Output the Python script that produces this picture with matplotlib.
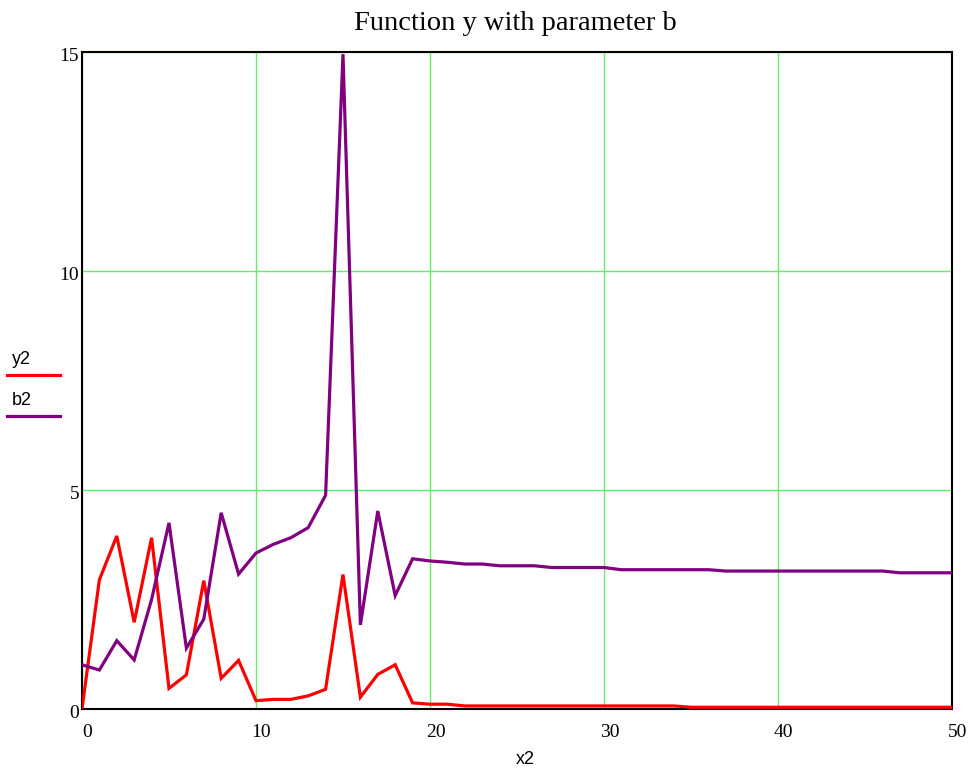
import numpy as np
import matplotlib.pyplot as plt
from matplotlib.lines import Line2D
import matplotlib.transforms as mtransforms

# x2 runs 0..50
x2 = np.arange(0, 51)

# y2 (red)
y2 = [0.0, 2.95, 3.95, 1.98, 3.91, 0.47, 0.78, 2.93, 0.70, 1.11,
      0.19, 0.22, 0.22, 0.30, 0.45, 3.07, 0.27, 0.79, 1.01, 0.14,
      0.11, 0.11, 0.07, 0.07, 0.07, 0.07, 0.07, 0.07, 0.07, 0.07,
      0.07, 0.07, 0.07, 0.07, 0.07, 0.04, 0.04, 0.04, 0.04, 0.04,
      0.04, 0.04, 0.04, 0.04, 0.04, 0.04, 0.04, 0.04, 0.04, 0.04,
      0.04]

# b2 (purple)
b2 = [1.01, 0.89, 1.56, 1.12, 2.50, 4.25, 1.39, 2.05, 4.48, 3.08,
      3.56, 3.76, 3.91, 4.14, 4.88, 14.95, 1.92, 4.52, 2.59, 3.43,
      3.38, 3.35, 3.31, 3.31, 3.27, 3.27, 3.27, 3.23, 3.23, 3.23,
      3.23, 3.18, 3.18, 3.18, 3.18, 3.18, 3.18, 3.15, 3.15, 3.15,
      3.15, 3.15, 3.15, 3.15, 3.15, 3.15, 3.15, 3.11, 3.11, 3.11,
      3.11]

xticks = [0, 10, 20, 30, 40, 50]
yticks = [0, 5, 10, 15]

RED = "#ff0000"
PURPLE = "#800080"
GRID = "#66ee66"

fig = plt.figure(figsize=(9.76, 7.71), dpi=100)
ax = fig.add_axes([0.084, 0.0804, 0.8914, 0.8522])

ax.plot(x2, y2, color=RED, lw=2.3, zorder=3, solid_joinstyle="miter")
ax.plot(x2, b2, color=PURPLE, lw=2.3, zorder=3, solid_joinstyle="miter")

ax.set_xlim(0, 50)
ax.set_ylim(0, 15)
ax.set_xticks(xticks)
ax.set_yticks(yticks)
ax.grid(True, color=GRID, lw=1.0, zorder=1)
ax.tick_params(length=0, labelsize=14)
ax.tick_params(axis="x", pad=11)
ax.tick_params(axis="y", pad=2)
for lab in ax.get_xticklabels() + ax.get_yticklabels():
    lab.set_fontfamily("Liberation Serif")
xoff = mtransforms.ScaledTranslation(5.5 / 100, 0, fig.dpi_scale_trans)
for lab in ax.get_xticklabels():
    lab.set_transform(lab.get_transform() + xoff)
yoff = mtransforms.ScaledTranslation(0, -2.5 / 100, fig.dpi_scale_trans)
for lab in ax.get_yticklabels():
    lab.set_transform(lab.get_transform() + yoff)

for s in ax.spines.values():
    s.set_color("black")
    s.set_linewidth(1.5)

fig.text(525 / 976, 1 - 760 / 771, "x2", ha="center", va="center",
         fontfamily="Liberation Sans", fontsize=13)
fig.text(515 / 976, 1 - 23 / 771, "Function y with parameter b", ha="center",
         va="center", fontfamily="Liberation Serif", fontsize=20.5)

# legend on the left side
fig.text(12 / 976, 1 - 359 / 771, "y2", ha="left", va="center",
         fontfamily="Liberation Sans", fontsize=13)
fig.add_artist(Line2D([7 / 976, 60 / 976], [1 - 375 / 771] * 2,
                      color=RED, lw=2.3, transform=fig.transFigure))
fig.text(12 / 976, 1 - 400 / 771, "b2", ha="left", va="center",
         fontfamily="Liberation Sans", fontsize=13)
fig.add_artist(Line2D([7 / 976, 60 / 976], [1 - 416 / 771] * 2,
                      color=PURPLE, lw=2.3, transform=fig.transFigure))

fig.savefig("out.png", dpi=100)
